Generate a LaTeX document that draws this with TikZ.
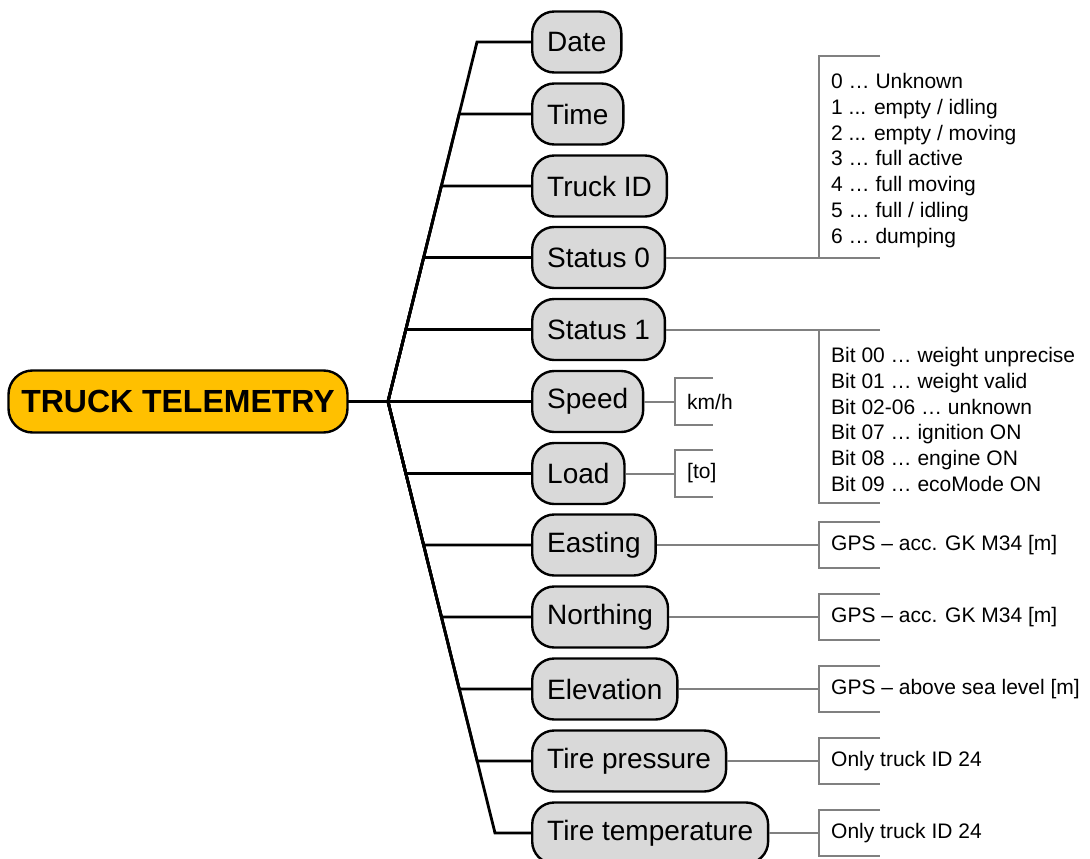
\documentclass[tikz,border=0pt]{standalone}
\usepackage{fontspec}
\setmainfont{Liberation Sans}
\usepackage{tikz}
\usetikzlibrary{positioning, calc}
\definecolor{rootfill}{HTML}{FFC000}
\definecolor{itemfill}{HTML}{D9D9D9}
\definecolor{notegray}{HTML}{808080}

\begin{document}
\begin{tikzpicture}[x=1pt, y=-1pt,
    rootbox/.style={draw, line width=2.4pt, fill=rootfill, rounded corners=24pt, minimum width=339pt, minimum height=62pt, font=\fontsize{32}{36}\selectfont\bfseries},
    item/.style={draw, line width=2.4pt, fill=itemfill, rounded corners=22pt, minimum height=61pt, inner xsep=15pt, anchor=west, font=\fontsize{28}{32}\selectfont},
    branch/.style={line width=2.8pt},
    link/.style={draw=notegray, line width=2pt},
    anno/.style={inner sep=0pt, font=\fontsize{21}{25.8}\selectfont}]
        \useasboundingbox (0,0) rectangle (1090,859);

        % Nodo centrale
        \node[rootbox] (root) at (178,401.5) {TRUCK TELEMETRY};
        \coordinate (J) at (388,401.5);
        \coordinate (T) at (477,42);
        \coordinate (B) at (495,833);

        % Campi
        \node[item] (date) at (531,42) {Date};
        \node[item] (time) at (531,114) {Time};
        \node[item] (truckid) at (531,186) {Truck ID};
        \node[item] (status0) at (531,257.5) {Status 0};
        \node[item] (status1) at (531,329.5) {Status 1};
        \node[item] (speed) at (531,401.5) {Speed};
        \node[item] (load) at (531,473.5) {Load};
        \node[item] (easting) at (531,545) {Easting};
        \node[item] (northing) at (531,617) {Northing};
        \node[item] (elevation) at (531,689) {Elevation};
        \node[item] (tirepress) at (531,761) {Tire pressure};
        \node[item] (tiretemp) at (531,833) {Tire temperature};

        % Rami
        \foreach \n in {date,time,truckid,status0,status1}
            \draw[branch] (root.east) -- (J) -- (intersection of J--T and \n.west--\n.east) -- (\n.west);
        \draw[branch] (root.east) -- (speed.west);
        \foreach \n in {load,easting,northing,elevation,tirepress,tiretemp}
            \draw[branch] (root.east) -- (J) -- (intersection of J--B and \n.west--\n.east) -- (\n.west);

        % Status 0
        \coordinate (s0corner) at (819,257.5);
        \draw[link] (status0.east) -- (s0corner);
        \draw[link] (880,56) -- (819,56) -- (s0corner) -- (880,257.5);
        \node[anno, align=left, anchor=north west] (s0note) at (831,73) {0 … Unknown\\1 ... empty / idling\\2 ... empty / moving\\3 … full active\\4 … full moving\\5 … full / idling\\6 … dumping};

        % Status 1
        \coordinate (s1corner) at (819,329.5);
        \draw[link] (status1.east) -- (s1corner);
        \draw[link] (880,329.5) -- (s1corner) -- (819,503) -- (880,503);
        \node[anno, align=left, anchor=north west] (s1note) at (831,347) {Bit 00 … weight unprecise\\Bit 01 … weight valid\\Bit 02-06 … unknown\\Bit 07 … ignition ON\\Bit 08 … engine ON\\Bit 09 … ecoMode ON};

        % Unita
        \foreach \n/\t in {speed/{km/h}, load/{[to]}} {
            \coordinate (\n-br) at (675,0 |- \n.east);
            \draw[link] (\n.east) -- (\n-br);
            \draw[link] ($(\n-br)+(38,-23.5)$) -- ($(\n-br)+(0,-23.5)$) -- ($(\n-br)+(0,23.5)$) -- ($(\n-br)+(38,23.5)$);
            \node[anno, anchor=west] (\n-note) at ($(\n-br)+(12,0)$) {\t};
        }

        % Note GPS
        \foreach \n/\t in {easting/{GPS – acc. GK M34 [m]}, northing/{GPS – acc. GK M34 [m]}, elevation/{GPS – above sea level [m]}, tirepress/{Only truck ID 24}, tiretemp/{Only truck ID 24}} {
            \coordinate (\n-br) at (819,0 |- \n.east);
            \draw[link] (\n.east) -- (\n-br);
            \draw[link] ($(\n-br)+(61,-23)$) -- ($(\n-br)+(0,-23)$) -- ($(\n-br)+(0,23)$) -- ($(\n-br)+(61,23)$);
            \node[anno, anchor=west] (\n-note) at ($(\n-br)+(12,0)$) {\t};
        }
    \end{tikzpicture}
\end{document}
